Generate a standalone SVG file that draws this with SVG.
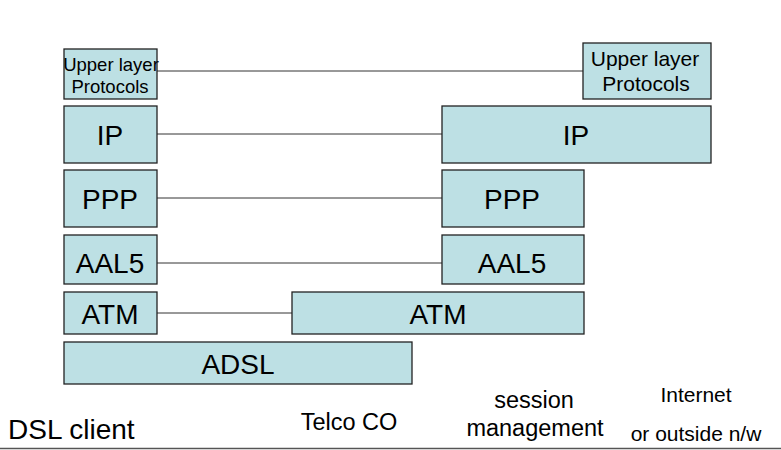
<svg xmlns="http://www.w3.org/2000/svg" width="781" height="450" viewBox="0 0 781 450">
<style>
.b{fill:#BDE0E4;stroke:#222;stroke-width:1.3}
.t{font-family:"Liberation Sans",Arial,sans-serif;fill:#000;text-anchor:middle}
.c{stroke:#333;stroke-width:1;fill:none}
</style>
<rect width="781" height="450" fill="#fff"/>
<g id="connectors">
<line class="c" x1="157" y1="71" x2="583" y2="71"/>
<line class="c" x1="157" y1="134" x2="442" y2="134"/>
<line class="c" x1="157" y1="198" x2="442" y2="198"/>
<line class="c" x1="157" y1="263" x2="442" y2="263"/>
<line class="c" x1="157" y1="313" x2="292" y2="313"/>
</g>
<g id="upper-left"><rect class="b" x="64" y="49" width="93" height="50"/><text class="t" x="111" y="71" font-size="18.5">Upper layer</text><text class="t" x="110" y="93" font-size="18.5">Protocols</text></g>
<g id="upper-right"><rect class="b" x="583" y="43" width="128" height="56"/><text class="t" x="645" y="66" font-size="21">Upper layer</text><text class="t" x="646" y="91" font-size="21">Protocols</text></g>
<g id="ip-left"><rect class="b" x="64" y="106" width="93" height="57"/><text class="t" x="110" y="145" font-size="28">IP</text></g>
<g id="ip-right"><rect class="b" x="442" y="106" width="269" height="57"/><text class="t" x="576" y="145" font-size="28">IP</text></g>
<g id="ppp-left"><rect class="b" x="64" y="170" width="93" height="57"/><text class="t" x="110" y="209" font-size="28">PPP</text></g>
<g id="ppp-right"><rect class="b" x="442" y="170" width="142" height="57"/><text class="t" x="512" y="209" font-size="28">PPP</text></g>
<g id="aal5-left"><rect class="b" x="64" y="235" width="93" height="49"/><text class="t" x="110" y="273" font-size="28">AAL5</text></g>
<g id="aal5-right"><rect class="b" x="442" y="235" width="142" height="49"/><text class="t" x="512" y="273" font-size="28">AAL5</text></g>
<g id="atm-left"><rect class="b" x="64" y="292" width="93" height="42"/><text class="t" x="110" y="324" font-size="28">ATM</text></g>
<g id="atm-right"><rect class="b" x="292" y="292" width="292" height="42"/><text class="t" x="438" y="324" font-size="28">ATM</text></g>
<g id="adsl"><rect class="b" x="64" y="342" width="348" height="42"/><text class="t" x="238" y="374" font-size="28">ADSL</text></g>
<g id="labels">
<text x="8" y="439" font-family="Liberation Sans,Arial,sans-serif" font-size="28">DSL client</text>
<text class="t" x="349" y="430" font-size="23.5">Telco CO</text>
<text class="t" x="534" y="408" font-size="23.5">session</text>
<text class="t" x="535" y="436" font-size="23.5">management</text>
<text class="t" x="696" y="402" font-size="21">Internet</text>
<text class="t" x="696" y="441" font-size="21">or outside n/w</text>
</g>
<line x1="0" y1="448.5" x2="781" y2="448.5" stroke="#555" stroke-width="1.5"/>
</svg>
